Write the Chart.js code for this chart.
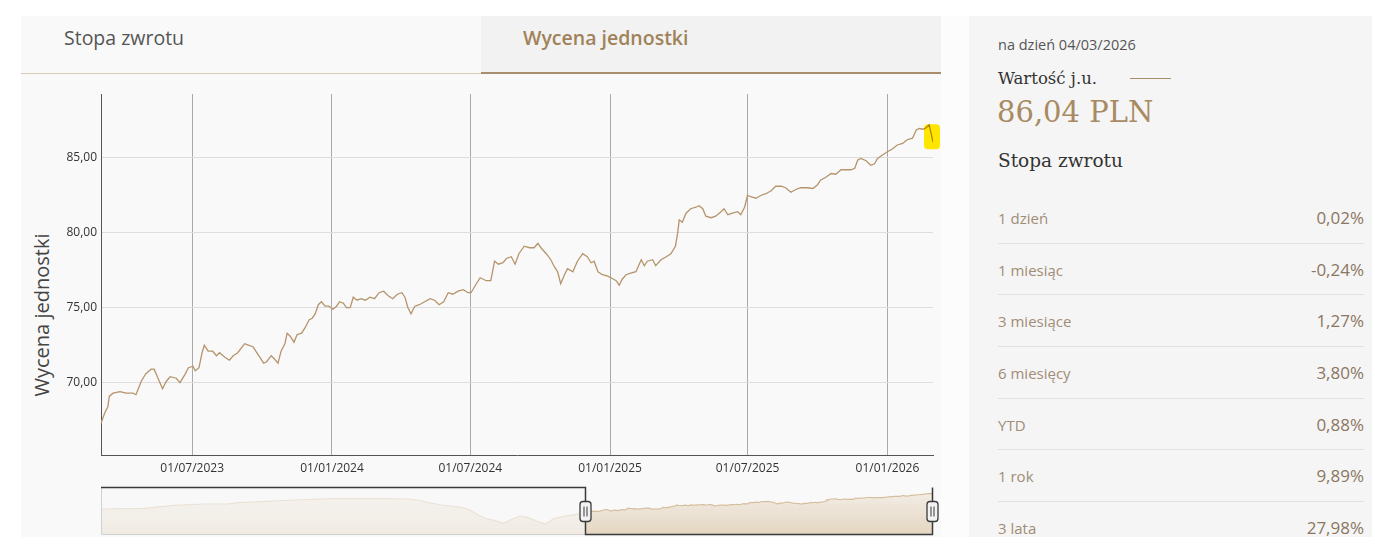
<!DOCTYPE html>
<html lang="pl">
<head>
<meta charset="utf-8">
<title>Wycena jednostki</title>
<script src="https://cdn.jsdelivr.net/npm/chart.js@4.4.1/dist/chart.umd.min.js"></script>
<style>
  body { margin: 0; width: 1375px; height: 559px; background: #fff; overflow: hidden;
         font-family: 'Open Sans', sans-serif; position: relative; }
  .abs { position: absolute; }
  #leftPanel { left: 21px; top: 16px; width: 920px; height: 521px; background: #f9f9f9; }
  #tabActive { left: 481px; top: 16px; width: 460px; height: 58px; background: #f2f2f2; }
  #lineA { left: 21px; top: 73px; width: 460px; height: 1px; background: #d9cbb8; }
  #lineB { left: 481px; top: 72px; width: 460px; height: 2px; background: #a78d6d; }
  .tab { top: 25px; font-size: 19.5px; line-height: 26px; white-space: nowrap; }
  #tab1 { left: 64px; color: #555; }
  #tab2 { left: 523px; color: #a0825a; font-weight: 600; }
  #gap { left: 941px; top: 16px; width: 28px; height: 521px; background: #fcfcfc; }
  #rightPanel { left: 969px; top: 16px; width: 403px; height: 521px; background: #f5f5f5; overflow: hidden; }
  #asOf { left: 29px; top: 18px; font-size: 14.5px; line-height: 21px; color: #555; }
  #unitLbl { left: 29px; top: 51px; font-family: 'DejaVu Serif', serif; font-size: 16.5px; line-height: 23px; color: #333; }
  #unitLine { left: 161px; top: 62px; width: 41px; height: 1px; background: #a78d6d; }
  #unitVal { left: 28px; top: 78px; font-family: 'DejaVu Serif', serif; font-size: 29px; line-height: 36px; color: #a88a62; }
  #retTitle { left: 29px; top: 133px; font-family: 'DejaVu Serif', serif; font-size: 18.5px; line-height: 24px; color: #333; }
  #rows { left: 29px; top: 176px; width: 366px; }
  .row { height: 51.67px; box-sizing: border-box; border-bottom: 1px solid #e1e1e1; position: relative; }
  .row span { position: absolute; top: 14px; line-height: 24px; }
  .row .l { left: 0; font-size: 15px; color: #a18c76; }
  .row .v { right: 0; font-size: 17px; color: #8b7762; }
  #yTitle { left: 42px; top: 315px; font-size: 20px; line-height: 24px; color: #444; white-space: nowrap;
            transform: translate(-50%, -50%) rotate(-90deg); }
  #mainCanvas { left: 21px; top: 80px; }
  #navCanvas { left: 21px; top: 480px; }
</style>
</head>
<body>
<div id="leftPanel" class="abs"></div>
<div id="tabActive" class="abs"></div>
<div id="lineA" class="abs"></div>
<div id="lineB" class="abs"></div>
<div id="tab1" class="abs tab">Stopa zwrotu</div>
<div id="tab2" class="abs tab">Wycena jednostki</div>
<div id="gap" class="abs"></div>
<div id="rightPanel" class="abs">
  <div id="asOf" class="abs">na dzień 04/03/2026</div>
  <div id="unitLbl" class="abs">Wartość j.u.</div>
  <div id="unitLine" class="abs"></div>
  <div id="unitVal" class="abs">86,04 PLN</div>
  <div id="retTitle" class="abs">Stopa zwrotu</div>
  <div id="rows" class="abs"></div>
</div>
<div id="yTitle" class="abs">Wycena jednostki</div>
<canvas id="mainCanvas" class="abs" width="920" height="400"></canvas>
<canvas id="navCanvas" class="abs" width="920" height="57"></canvas>

<script>
// ---- data ----
const dates = [
  '2023-03-03','2023-03-08','2023-03-12','2023-03-14','2023-03-19','2023-03-28','2023-04-05','2023-04-14','2023-04-18','2023-04-25',
  '2023-05-01','2023-05-08','2023-05-12','2023-05-17','2023-05-23','2023-05-28','2023-06-02','2023-06-10','2023-06-15','2023-06-21',
  '2023-06-26','2023-07-02','2023-07-05','2023-07-10','2023-07-14','2023-07-17','2023-07-22','2023-07-28','2023-08-02','2023-08-06',
  '2023-08-13','2023-08-19','2023-08-24','2023-08-30','2023-09-08','2023-09-13','2023-09-19','2023-09-24','2023-09-28','2023-10-03',
  '2023-10-07','2023-10-13','2023-10-17','2023-10-22','2023-10-26','2023-10-31','2023-11-03','2023-11-07','2023-11-12','2023-11-16',
  '2023-11-22','2023-11-27','2023-12-02','2023-12-06','2023-12-10','2023-12-14','2023-12-18','2023-12-23','2023-12-28','2024-01-02',
  '2024-01-07','2024-01-11','2024-01-16','2024-01-20','2024-01-25','2024-01-29','2024-02-03','2024-02-08','2024-02-14','2024-02-20',
  '2024-02-26','2024-03-03','2024-03-09','2024-03-15','2024-03-21','2024-03-27','2024-04-02','2024-04-06','2024-04-10','2024-04-14',
  '2024-04-19','2024-04-25','2024-05-02','2024-05-09','2024-05-15','2024-05-21','2024-05-27','2024-06-02','2024-06-08','2024-06-15',
  '2024-06-22','2024-06-28','2024-07-02','2024-07-09','2024-07-14','2024-07-22','2024-07-28','2024-08-02','2024-08-07','2024-08-13',
  '2024-08-18','2024-08-24','2024-08-29','2024-09-03','2024-09-10','2024-09-17','2024-09-23','2024-09-28','2024-10-02','2024-10-09',
  '2024-10-15','2024-10-20','2024-10-24','2024-10-28','2024-11-02','2024-11-06','2024-11-13','2024-11-19','2024-11-26','2024-12-02',
  '2024-12-07','2024-12-11','2024-12-16','2024-12-22','2024-12-29','2025-01-04','2025-01-09','2025-01-13','2025-01-17','2025-01-22',
  '2025-01-28','2025-02-04','2025-02-11','2025-02-15','2025-02-19','2025-02-26','2025-03-02','2025-03-09','2025-03-16','2025-03-22',
  '2025-03-28','2025-03-31','2025-04-02','2025-04-06','2025-04-11','2025-04-17','2025-04-24','2025-04-28','2025-05-03','2025-05-07',
  '2025-05-14','2025-05-20','2025-05-27','2025-05-31','2025-06-05','2025-06-11','2025-06-18','2025-06-22','2025-06-27','2025-07-01',
  '2025-07-05','2025-07-12','2025-07-19','2025-07-25','2025-08-01','2025-08-07','2025-08-14','2025-08-20','2025-08-27','2025-09-03',
  '2025-09-09','2025-09-18','2025-09-25','2025-10-01','2025-10-05','2025-10-12','2025-10-19','2025-10-25','2025-11-01','2025-11-07',
  '2025-11-14','2025-11-19','2025-11-23','2025-11-27','2025-12-04','2025-12-10','2025-12-15','2025-12-19','2025-12-26','2026-01-01',
  '2026-01-08','2026-01-14','2026-01-21','2026-01-27','2026-02-03','2026-02-08','2026-02-12','2026-02-17','2026-02-21','2026-02-25',
  '2026-03-02'
];
const values = [
  67.3, 68.0, 68.4, 69.1, 69.3, 69.4, 69.3, 69.3, 69.2, 70.1,
  70.6, 70.9, 70.9, 70.3, 69.6, 70.1, 70.4, 70.3, 70.0, 70.5,
  71.0, 71.1, 70.8, 71.0, 72.0, 72.5, 72.1, 72.1, 71.8, 72.0,
  71.7, 71.5, 71.8, 72.0, 72.6, 72.5, 72.4, 72.0, 71.7, 71.3,
  71.4, 71.8, 71.6, 71.3, 72.1, 72.6, 73.3, 73.1, 72.7, 73.2,
  73.3, 73.7, 74.2, 74.3, 74.6, 75.2, 75.4, 75.1, 75.1, 74.9,
  75.1, 75.4, 75.3, 75.0, 75.0, 75.7, 75.5, 75.6, 75.5, 75.7,
  75.6, 76.0, 76.1, 75.8, 75.6, 75.9, 76.0, 75.7, 75.0, 74.6,
  75.1, 75.2, 75.4, 75.6, 75.5, 75.2, 75.4, 76.0, 75.9, 76.1,
  76.2, 76.0, 76.0, 76.6, 77.0, 76.8, 76.8, 78.1, 77.9, 78.0,
  78.3, 78.4, 77.9, 78.6, 79.1, 79.0, 79.0, 79.3, 79.0, 78.6,
  78.2, 77.7, 77.4, 76.6, 77.2, 77.6, 77.4, 78.1, 78.6, 78.4,
  78.0, 78.1, 77.4, 77.2, 77.1, 76.95, 76.8, 76.5, 76.9, 77.2,
  77.3, 77.4, 78.2, 77.8, 78.1, 78.2, 77.8, 78.2, 78.4, 78.6,
  79.1, 80.0, 80.85, 80.7, 81.3, 81.6, 81.7, 81.8, 81.6, 81.1,
  81.0, 81.1, 81.4, 81.6, 81.2, 81.3, 81.4, 81.2, 81.7, 82.5,
  82.4, 82.3, 82.5, 82.6, 82.8, 83.1, 83.1, 83.0, 82.7, 82.9,
  83.0, 83.0, 82.95, 83.2, 83.5, 83.7, 83.95, 83.9, 84.2, 84.2,
  84.2, 84.3, 84.85, 84.95, 84.8, 84.5, 84.6, 84.95, 85.2, 85.4,
  85.6, 85.85, 85.95, 86.2, 86.3, 86.85, 86.95, 86.9, 87.0, 87.2,
  86.04
];
// longer history shown only in the navigator strip
const historyDates = [
  '2018-12-30','2019-05-16','2019-08-18','2019-11-21','2020-02-02','2020-03-06','2020-05-19','2020-08-31','2021-01-05','2021-05-20',
  '2021-08-23','2021-09-23','2021-10-25','2021-12-06','2022-02-07','2022-03-05','2022-03-26','2022-04-22','2022-05-23','2022-06-19',
  '2022-07-10','2022-08-10','2022-09-05','2022-10-07','2022-10-30','2022-11-23','2022-12-30','2023-02-05'
];
const historyValues = [
  71.6, 72.3, 75.3, 76.6, 76.6, 77.9, 78.9, 80.6, 81.9, 81.9,
  81.6, 80.6, 77.9, 75.6, 73.3, 70.6, 66.6, 62.3, 59.9, 57.3,
  60.6, 64.6, 62.9, 58.9, 56.6, 61.9, 64.6, 66.3
];
const xTickDates = ['2023-07-01', '2024-01-01', '2024-07-01', '2025-01-01', '2025-07-01', '2026-01-01'];
const yTickValues = [70, 75, 80, 85];
const returnLabels = ['1 dzień', '1 miesiąc', '3 miesiące', '6 miesięcy', 'YTD', '1 rok', '3 lata'];
const returnValues = ['0,02%', '-0,24%', '1,27%', '3,80%', '0,88%', '9,89%', '27,98%'];

// ---- helpers ----
const ms = s => new Date(s).getTime();
function fmtDate(v) {
  const d = new Date(v);
  const p = n => String(n).padStart(2, '0');
  return p(d.getUTCDate()) + '/' + p(d.getUTCMonth() + 1) + '/' + d.getUTCFullYear();
}

// return table on the right
const rowsBox = document.getElementById('rows');
returnLabels.forEach((lbl, i) => {
  const r = document.createElement('div');
  r.className = 'row';
  r.innerHTML = '<span class="l"></span><span class="v"></span>';
  r.querySelector('.l').textContent = lbl;
  r.querySelector('.v').textContent = returnValues[i];
  rowsBox.appendChild(r);
});

Chart.defaults.font.family = "'Open Sans', sans-serif";
Chart.defaults.animation = false;

const lineColor = '#b5946c';
const mainPoints = dates.map((d, i) => ({ x: ms(d), y: values[i] }));

// yellow marker over the last move
const highlight = {
  id: 'highlight',
  afterDatasetsDraw(chart) {
    const meta = chart.getDatasetMeta(0);
    const last = meta.data[meta.data.length - 1];
    const ctx = chart.ctx;
    ctx.save();
    ctx.globalCompositeOperation = 'multiply';
    ctx.fillStyle = '#ffe600';
    ctx.beginPath();
    ctx.roundRect(last.x - 9, last.y - 18, 16, 25, 4);
    ctx.fill();
    ctx.restore();
  }
};

new Chart(document.getElementById('mainCanvas'), {
  type: 'line',
  data: {
    datasets: [{
      data: mainPoints,
      borderColor: lineColor,
      borderWidth: 1.3,
      pointRadius: 0,
      tension: 0,
      fill: false
    }]
  },
  options: {
    responsive: false,
    layout: { padding: { top: 14, right: 8, left: 0, bottom: 0 } },
    plugins: { legend: { display: false }, tooltip: { enabled: false } },
    scales: {
      x: {
        type: 'linear',
        min: ms('2023-03-03'),
        max: ms('2026-03-02'),
        afterBuildTicks: s => { s.ticks = xTickDates.map(d => ({ value: ms(d) })); },
        afterFit: s => { s.height = 25; },
        ticks: { autoSkip: false, maxRotation: 0, padding: 6, color: '#333', font: { size: 12 },
                 callback: v => fmtDate(v) },
        grid: { color: '#a9a9a9', drawTicks: false },
        border: { color: '#555', width: 1 }
      },
      y: {
        min: 65.18,
        max: 89.25,
        afterBuildTicks: s => { s.ticks = yTickValues.map(v => ({ value: v })); },
        afterFit: s => { s.width = 80; },
        ticks: { padding: 4, color: '#333', font: { size: 12 },
                 callback: v => v.toFixed(2).replace('.', ',') },
        grid: { color: '#dddddd', drawTicks: false },
        border: { color: '#555', width: 1 }
      }
    }
  },
  plugins: [highlight]
});

// ---- navigator ----
const navPoints = historyDates.map((d, i) => ({ x: ms(d), y: historyValues[i] })).concat(mainPoints);
const rangeStart = ms(dates[0]);

const navDecor = {
  id: 'navDecor',
  afterDraw(chart) {
    const a = chart.chartArea, ctx = chart.ctx;
    const x1 = Math.round(chart.scales.x.getPixelForValue(rangeStart)) + 0.5;
    const x2 = Math.round(a.right) - 0.5;
    const top = Math.round(a.top) + 0.5, bot = Math.round(a.bottom) + 0.5;
    ctx.save();
    // mask over the part outside the range
    ctx.fillStyle = 'rgba(247,247,247,0.62)';
    ctx.fillRect(a.left, a.top, x1 - a.left, a.bottom - a.top);
    ctx.strokeStyle = '#d0d0d0';
    ctx.lineWidth = 1;
    ctx.beginPath();
    ctx.moveTo(a.left + 0.5, top); ctx.lineTo(a.left + 0.5, bot); ctx.lineTo(x1, bot);
    ctx.stroke();
    // outline
    ctx.strokeStyle = '#3a3a3a';
    ctx.lineWidth = 1.5;
    ctx.beginPath();
    ctx.moveTo(a.left, top); ctx.lineTo(x1, top); ctx.lineTo(x1, bot); ctx.lineTo(x2, bot); ctx.lineTo(x2, top);
    ctx.stroke();
    // handles
    const cy = (a.top + a.bottom) / 2 + 1;
    [x1, x2].forEach(hx => {
      ctx.fillStyle = '#f2f2f2';
      ctx.strokeStyle = '#3a3a3a';
      ctx.lineWidth = 1.3;
      ctx.beginPath();
      ctx.roundRect(hx - 5.5, cy - 10, 11, 20, 3);
      ctx.fill(); ctx.stroke();
      ctx.lineWidth = 1;
      ctx.beginPath();
      ctx.moveTo(hx - 1.5, cy - 5); ctx.lineTo(hx - 1.5, cy + 5);
      ctx.moveTo(hx + 1.5, cy - 5); ctx.lineTo(hx + 1.5, cy + 5);
      ctx.stroke();
    });
    ctx.restore();
  }
};

new Chart(document.getElementById('navCanvas'), {
  type: 'line',
  data: {
    datasets: [{
      data: navPoints,
      borderColor: '#d6bf9f',
      borderWidth: 1.2,
      pointRadius: 0,
      tension: 0,
      fill: 'start',
      backgroundColor: c => {
        const a = c.chart.chartArea;
        if (!a) return 'rgba(225,208,185,0.5)';
        const g = c.chart.ctx.createLinearGradient(0, a.top, 0, a.bottom);
        g.addColorStop(0, 'rgba(232,218,198,0.35)');
        g.addColorStop(1, 'rgba(222,204,178,0.8)');
        return g;
      }
    }]
  },
  options: {
    responsive: false,
    layout: { padding: { left: 80, right: 8, top: 7, bottom: 3 } },
    plugins: { legend: { display: false }, tooltip: { enabled: false } },
    scales: {
      x: { type: 'linear', display: false, min: ms(historyDates[0]), max: ms('2026-03-02') },
      y: { display: false, min: 46.6, max: 93.6 }
    }
  },
  plugins: [navDecor]
});
</script>
</body>
</html>
